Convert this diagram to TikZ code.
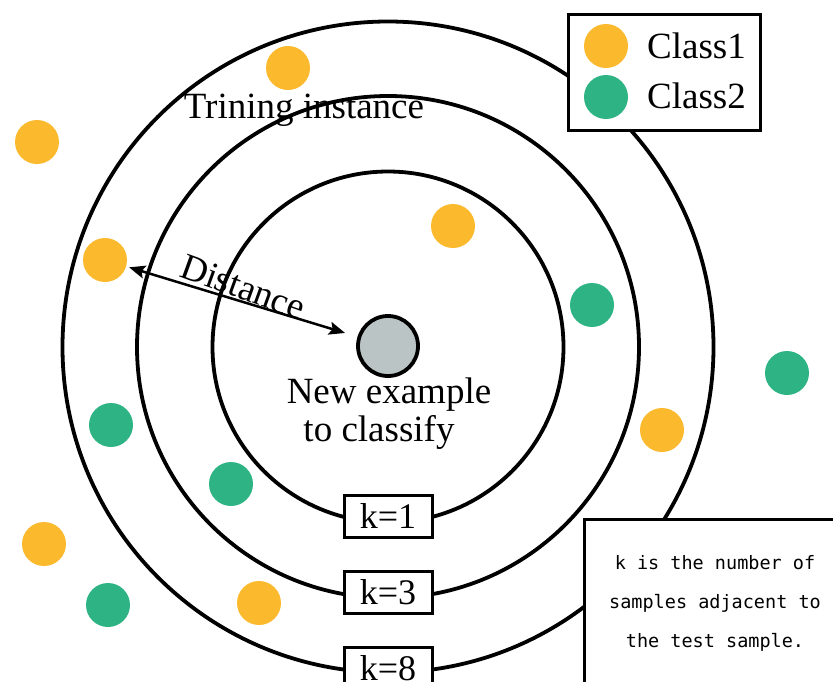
\documentclass[tikz,border=0pt]{standalone}
\usepackage{fontspec}
\setmainfont{Liberation Serif}
\newfontfamily\monofnt{DejaVu Sans Mono}
\usetikzlibrary{arrows.meta}
\definecolor{cone}{RGB}{251,185,45}
\definecolor{ctwo}{RGB}{46,180,132}
\definecolor{cgray}{RGB}{187,196,196}
\begin{document}
\begin{tikzpicture}[x=1pt,y=-1pt,
  ring/.style={draw, circle, line width=3.8pt, inner sep=0pt, minimum size=#1},
  dotone/.style={circle, fill=cone, inner sep=0pt, minimum size=44pt},
  dottwo/.style={circle, fill=ctwo, inner sep=0pt, minimum size=44pt},
  kbox/.style={draw, fill=white, line width=3pt, minimum width=88pt, minimum height=42pt, inner sep=0pt, font=\fontsize{36}{40}\selectfont},
  lbl/.style={font=\fontsize{37}{40}\selectfont, inner sep=0pt},
  note/.style={font=\monofnt\fontsize{18.5}{20}\selectfont, inner sep=0pt, anchor=base}
]
\useasboundingbox (0,0) rectangle (833,681);
\clip (0,0) rectangle (833,681);
% rings
\node[ring=651pt] (outer) at (388,347) {};
\node[ring=502pt] (middle) at (388,347) {};
\node[ring=351pt] (inner) at (388,347) {};
% new example
\node[circle, draw, fill=cgray, line width=3.8pt, minimum size=60pt, inner sep=0pt] (new) at (388,346) {};
% dots
\node[dotone] (o1) at (288,68) {};
\node[dotone] (o2) at (37,142) {};
\node[dotone] (o3) at (453,226) {};
\node[dotone] (o4) at (105,260) {};
\node[dotone] (o5) at (662,430) {};
\node[dotone] (o6) at (44,544) {};
\node[dotone] (o7) at (259,603) {};
\node[dottwo] (g1) at (592,305) {};
\node[dottwo] (g2) at (787,373) {};
\node[dottwo] (g3) at (111,425) {};
\node[dottwo] (g4) at (231,484) {};
\node[dottwo] (g5) at (108,605) {};
% texts
\node[lbl, anchor=base] (train) at (304,118) {Trining instance};
\node[lbl, anchor=base] (ne1) at (389,403) {New example};
\node[lbl, anchor=base] (ne2) at (379,441) {to classify};
% distance arrow
\draw[line width=2.5pt, {Stealth[length=16pt,width=13pt,inset=3pt]}-{Stealth[length=16pt,width=13pt,inset=3pt]}, shorten <=3pt, shorten >=13pt] (o4) -- (new);
\node[lbl, rotate=-20] (dist) at (243,287) {Distance};
% k boxes
\node[kbox] (k1) at (388,516) {k=1};
\node[kbox] (k3) at (388,592) {k=3};
\node[kbox] (k8) at (388,668) {k=8};
% legend
\node[draw, fill=white, line width=3pt, minimum width=192pt, minimum height=116pt, inner sep=0pt] (legend) at (664,72) {};
\node[dotone] (lo) at (606,46) {};
\node[dottwo] (lg) at (606,97) {};
\node[lbl, anchor=base west] (c1) at (647,58) {Class1};
\node[lbl, anchor=base west] (c2) at (647,108) {Class2};
% note box
\node[draw, fill=white, line width=3pt, minimum width=300pt, minimum height=220pt, anchor=north west, inner sep=0pt] (notebox) at (583,518) {};
\node[note] (n1) at (715,569) {k is the number of};
\node[note] (n2) at (715,608) {samples adjacent to};
\node[note] (n3) at (715,647) {the test sample.};
\end{tikzpicture}
\end{document}
